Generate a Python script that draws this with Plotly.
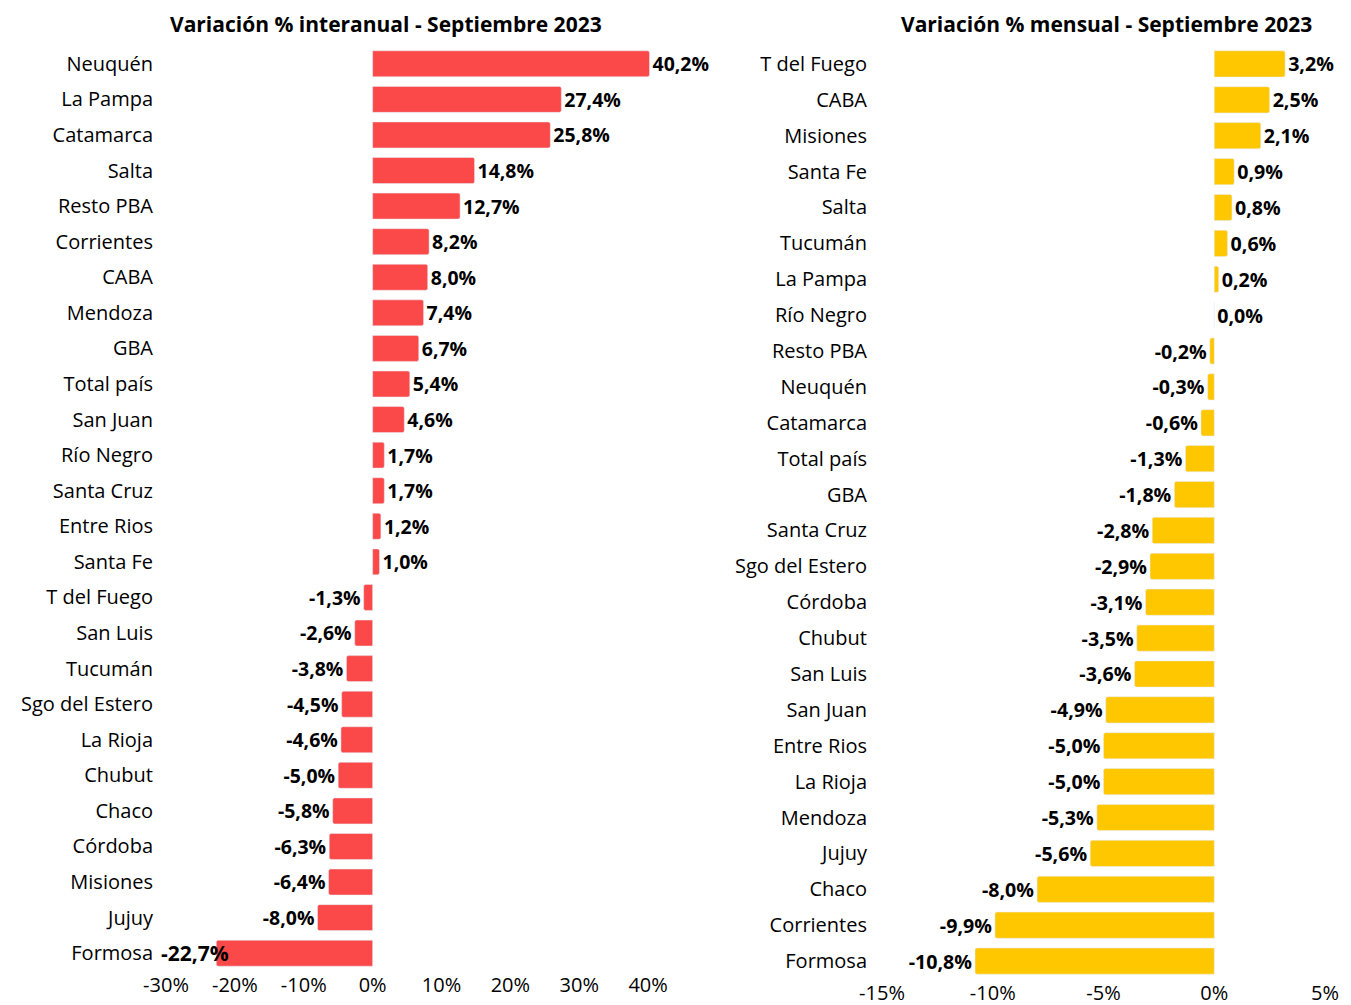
import plotly.graph_objects as go

left_cats = ["Neuquén", "La Pampa", "Catamarca", "Salta", "Resto PBA", "Corrientes", "CABA",
             "Mendoza", "GBA", "Total país", "San Juan", "Río Negro", "Santa Cruz", "Entre Rios",
             "Santa Fe", "T del Fuego", "San Luis", "Tucumán", "Sgo del Estero", "La Rioja",
             "Chubut", "Chaco", "Córdoba", "Misiones", "Jujuy", "Formosa"]
left_vals = [40.2, 27.4, 25.8, 14.8, 12.7, 8.2, 8.0, 7.4, 6.7, 5.4, 4.6, 1.7, 1.7, 1.2, 1.0,
             -1.3, -2.6, -3.8, -4.5, -4.6, -5.0, -5.8, -6.3, -6.4, -8.0, -22.7]

right_cats = ["T del Fuego", "CABA", "Misiones", "Santa Fe", "Salta", "Tucumán", "La Pampa",
              "Río Negro", "Resto PBA", "Neuquén", "Catamarca", "Total país", "GBA", "Santa Cruz",
              "Sgo del Estero", "Córdoba", "Chubut", "San Luis", "San Juan", "Entre Rios",
              "La Rioja", "Mendoza", "Jujuy", "Chaco", "Corrientes", "Formosa"]
right_vals = [3.2, 2.5, 2.1, 0.9, 0.8, 0.6, 0.2, 0.0, -0.2, -0.3, -0.6, -1.3, -1.8, -2.8,
              -2.9, -3.1, -3.5, -3.6, -4.9, -5.0, -5.0, -5.3, -5.6, -8.0, -9.9, -10.8]

left_ticks = [-30, -20, -10, 0, 10, 20, 30, 40]
left_ticktext = ["-30%", "-20%", "-10%", "0%", "10%", "20%", "30%", "40%"]
right_ticks = [-15, -10, -5, 0, 5]
right_ticktext = ["-15%", "-10%", "-5%", "0%", "5%"]

title_left = "Variación % interanual - Septiembre 2023"
title_right = "Variación % mensual - Septiembre 2023"

FONT = "Open Sans"
OFF = 8  # page body margin
W, H = 1351 - OFF, 1005 - OFF


def px(x):
    return (x - OFF) / W


def py(y):
    return 1 - (y - OFF) / H


def fmt(v):
    return f"{v:.1f}".replace(".", ",") + "%"


label_font = dict(family=FONT, size=21, color="#000", weight="bold")

# the last left bar's label overlaps its bar in the reference; draw it as an annotation
left_text = [fmt(v) for v in left_vals]
left_text[-1] = ""

fig = go.Figure()
fig.add_trace(go.Bar(
    x=left_vals, y=left_cats, orientation="h", xaxis="x", yaxis="y",
    marker=dict(color="#FB4949"), width=0.73,
    text=left_text, textposition="outside", cliponaxis=False,
    textfont=label_font, hoverinfo="skip",
))
fig.add_trace(go.Bar(
    x=right_vals, y=right_cats, orientation="h", xaxis="x2", yaxis="y2",
    marker=dict(color="#FFC700"), width=0.73,
    text=[fmt(v) for v in right_vals], textposition="outside", cliponaxis=False,
    textfont=label_font, hoverinfo="skip",
))

axis_common = dict(showgrid=False, zeroline=False, showline=False, ticks="", automargin=False)
fig.update_layout(
    width=W, height=H,
    margin=dict(l=0, r=0, t=0, b=0),
    paper_bgcolor="white", plot_bgcolor="white",
    showlegend=False,
    barcornerradius=2,
    font=dict(family=FONT, size=20, color="#000"),
    xaxis=dict(domain=[px(166), px(655)], range=[-30, 41], anchor="y",
               tickvals=left_ticks, ticktext=left_ticktext, **axis_common),
    yaxis=dict(domain=[py(971), py(46)], anchor="x", autorange="reversed",
               ticklabelstandoff=12, **axis_common),
    xaxis2=dict(domain=[px(882), px(1325)], range=[-15, 5], anchor="y2",
                tickvals=right_ticks, ticktext=right_ticktext, **axis_common),
    yaxis2=dict(domain=[py(979), py(46)], anchor="x2", autorange="reversed",
                ticklabelstandoff=14, **axis_common),
    annotations=[
        dict(text=f"<b>{title_left}</b>", x=px(386), y=1, xref="paper", yref="paper",
             showarrow=False, xanchor="center", yanchor="top", font=dict(size=21)),
        dict(text=f"<b>{title_right}</b>", x=px(1106), y=1, xref="paper", yref="paper",
             showarrow=False, xanchor="center", yanchor="top", font=dict(size=21)),
        dict(text=fmt(left_vals[-1]), x=left_vals[-1], y=left_cats[-1], xref="x", yref="y",
             showarrow=False, xanchor="right", yanchor="middle", xshift=15, font=label_font),
    ],
)

fig.write_html("out.html")
